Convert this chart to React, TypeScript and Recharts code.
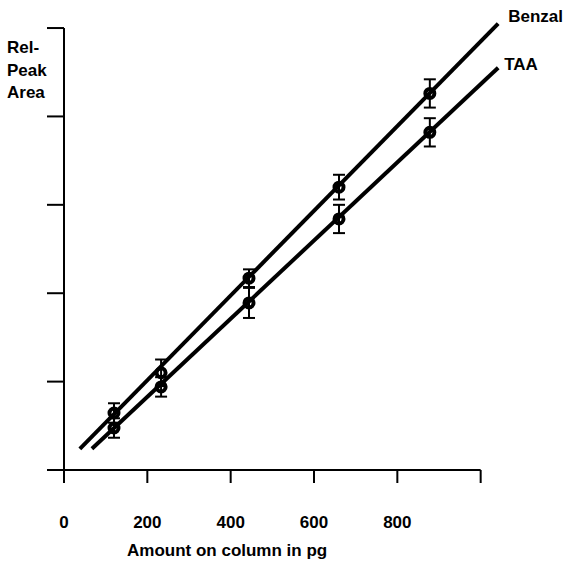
import { ComposedChart, XAxis, YAxis, Line, Scatter, ErrorBar, ReferenceLine } from 'recharts';

// amounts as they sit against the printed x ticks
const amounts = [120, 233, 444, 660, 878];
const benzalArea = [0.645, 1.1, 2.17, 3.2, 4.26];
const benzalErr = [0.11, 0.15, 0.1, 0.14, 0.16];
const taaArea = [0.475, 0.94, 1.89, 2.84, 3.82];
const taaErr = [0.11, 0.11, 0.17, 0.16, 0.16];

// fitted lines, start and end
const benzalFitX = [38, 1042];
const benzalFitY = [0.24, 5.05];
const taaFitX = [67, 1042];
const taaFitY = [0.24, 4.55];

const xTicks = [0, 200, 400, 600, 800, 1000];
const yTicks = [0, 1, 2, 3, 4, 5];

const FONT = '"Liberation Sans", Arial, sans-serif';

const benzalPts = amounts.map((x, i) => ({ x, y: benzalArea[i], err: benzalErr[i] }));
const taaPts = amounts.map((x, i) => ({ x, y: taaArea[i], err: taaErr[i] }));
const benzalFit = benzalFitX.map((x, i) => ({ x, y: benzalFitY[i] }));
const taaFit = taaFitX.map((x, i) => ({ x, y: taaFitY[i] }));

const ring = (p: any) => (
  <circle cx={p.cx} cy={p.cy} r={4.5} fill="none" stroke="#000" strokeWidth={4} />
);

const endLabel = (text: string, dx: number, dy: number) => (p: any) =>
  p.index === 1 ? (
    <text x={p.x + dx} y={p.y + dy} fontFamily={FONT} fontSize={17} fontWeight="bold" fill="#000">
      {text}
    </text>
  ) : null;

export default function App() {
  return (
    <div style={{ position: 'absolute', left: 0, top: 0, width: 566, height: 561, background: '#fff' }}>
      <ComposedChart
        width={566}
        height={561}
        margin={{ top: 19.2, right: 64.5, bottom: 31, left: 44 }}
      >
        <XAxis
          dataKey="x"
          type="number"
          domain={[0, 1050]}
          ticks={xTicks}
          allowDataOverflow
          axisLine={false}
          tickLine={{ stroke: '#000', strokeWidth: 2 }}
          tickSize={13}
          tickMargin={33}
          height={60}
          tickFormatter={(v: number) => (v === 1000 ? '' : String(v))}
          tick={{ fill: '#000', fontSize: 17, fontWeight: 'bold', fontFamily: FONT }}
        />
        <YAxis
          dataKey="y"
          type="number"
          domain={[0, 5.1]}
          ticks={yTicks}
          allowDataOverflow
          axisLine={false}
          tickLine={{ stroke: '#000', strokeWidth: 2 }}
          tickSize={17}
          width={20}
          tickFormatter={() => ''}
        />
        <ReferenceLine
          segment={[{ x: -38, y: 0 }, { x: 1000, y: 0 }]}
          stroke="#000"
          strokeWidth={2}
          ifOverflow="visible"
        />
        <ReferenceLine
          segment={[{ x: 0, y: 0 }, { x: 0, y: 5 }]}
          stroke="#000"
          strokeWidth={2}
          ifOverflow="visible"
        />
        <Line
          data={benzalFit}
          dataKey="y"
          type="linear"
          stroke="#000"
          strokeWidth={4}
          dot={false}
          isAnimationActive={false}
          label={endLabel('Benzal', 10, -1.5)}
        />
        <Line
          data={taaFit}
          dataKey="y"
          type="linear"
          stroke="#000"
          strokeWidth={4}
          dot={false}
          isAnimationActive={false}
          label={endLabel('TAA', 6, 2)}
        />
        <Scatter data={benzalPts} shape={ring} isAnimationActive={false}>
          <ErrorBar dataKey="err" direction="y" width={6} stroke="#000" strokeWidth={2} />
        </Scatter>
        <Scatter data={taaPts} shape={ring} isAnimationActive={false}>
          <ErrorBar dataKey="err" direction="y" width={6} stroke="#000" strokeWidth={2} />
        </Scatter>
      </ComposedChart>
      <div
        style={{
          position: 'absolute',
          left: 7,
          top: 37,
          fontFamily: FONT,
          fontSize: 17,
          fontWeight: 'bold',
          lineHeight: '22.5px',
        }}
      >
        Rel-
        <br />
        Peak
        <br />
        Area
      </div>
      <div
        style={{
          position: 'absolute',
          left: 127,
          top: 541,
          fontFamily: FONT,
          fontSize: 17,
          fontWeight: 'bold',
          lineHeight: '20px',
          whiteSpace: 'nowrap',
        }}
      >
        Amount on column in pg
      </div>
    </div>
  );
}
